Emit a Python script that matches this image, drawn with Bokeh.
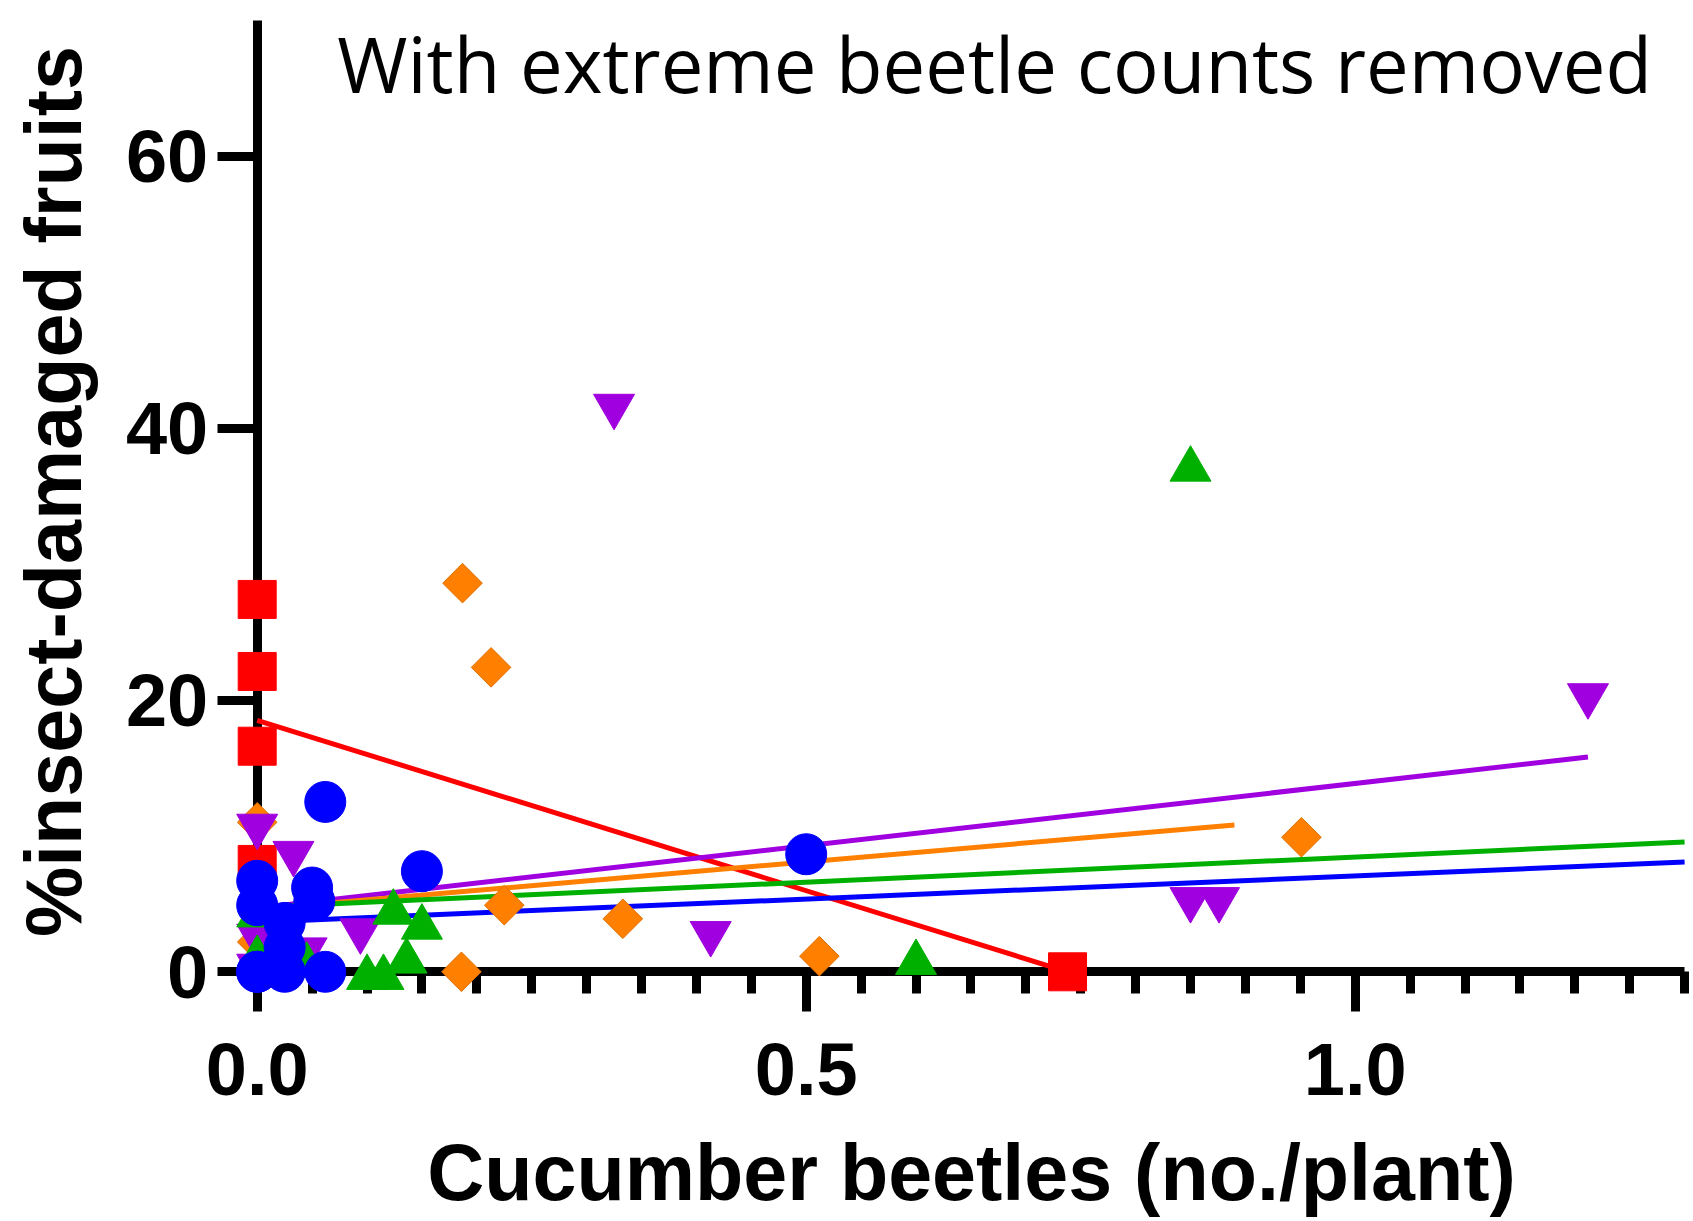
import numpy as np
from bokeh.plotting import figure
from bokeh.models import FixedTicker, Label, ColumnDataSource, Range1d
from bokeh.transform import dodge
from bokeh.embed import file_html
from bokeh.resources import INLINE

# ---------------- data ----------------
blue_x = [0.0, 0.0, 0.0, 0.0, 0.025, 0.025, 0.025, 0.050, 0.052, 0.062, 0.062, 0.150, 0.500]
blue_y = [6.7, 4.9, 0.0, 0.0, 3.6, 1.8, 0.0, 6.2, 5.2, 12.5, 0.0, 7.4, 8.65]

red_x = [0.0, 0.0, 0.0, 0.0, 0.738]
red_y = [27.4, 22.1, 16.6, 7.9, 0.0]

green_x = [0.0, 0.0, 0.045, 0.100, 0.115, 0.124, 0.136, 0.150, 0.600, 0.850]
green_y = [4.6, 1.4, 0.9, 0.0, 0.0, 4.8, 1.2, 3.7, 1.1, 37.4]

purple_x = [0.0, 0.033, 0.0, 0.0, 0.045, 0.094, 0.325, 0.413, 0.850, 0.876, 1.212]
purple_y = [10.3, 8.3, 2.2, 0.0, 1.2, 2.6, 41.2, 2.4, 4.9, 4.9, 19.9]

orange_x = [0.0, 0.0, 0.186, 0.187, 0.213, 0.225, 0.333, 0.512, 0.951]
orange_y = [11.0, 2.2, 0.0, 28.6, 22.4, 4.9, 3.9, 1.15, 9.9]

# fitted regression lines (end points)
red_fit_x = [0.0, 0.738]
red_fit_y = [18.5, 0.0]
purple_fit_x = [0.0, 1.212]
purple_fit_y = [4.7, 15.8]
orange_fit_x = [0.0, 0.890]
orange_fit_y = [4.6, 10.8]
green_fit_x = [0.0, 1.30]
green_fit_y = [4.75, 9.55]
blue_fit_x = [0.0, 1.30]
blue_fit_y = [3.65, 8.08]

x_major_ticks = [0.0, 0.5, 1.0]
x_tick_labels = ["0.0", "0.5", "1.0"]
y_major_ticks = [0, 20, 40, 60]
y_tick_labels = ["0", "20", "40", "60"]
x_axis_max = 1.3
y_axis_max = 70

title_text = "With extreme beetle counts removed"
x_label = "Cucumber beetles (no./plant)"
y_label = "%insect-damaged fruits"

# ---------------- colours / styles ----------------
RED = "#FF0000"
BLUE = "#0000FF"
GREEN = "#00B000"
ORANGE = "#FF8000"
PURPLE = "#A000E0"

W, H = 1693, 1221
X_ORIGIN_PX, Y_ORIGIN_PX = 256.7, 971.3     # where (0, 0) sits on the canvas
PX_PER_X, PX_PER_Y = 1098.0, 13.59

x_range = Range1d(-X_ORIGIN_PX / PX_PER_X, (W - X_ORIGIN_PX) / PX_PER_X)
y_range = Range1d(-(H - Y_ORIGIN_PX) / PX_PER_Y, Y_ORIGIN_PX / PX_PER_Y)

p = figure(
    output_backend="svg",
    toolbar_location=None,
    x_range=x_range,
    y_range=y_range,
    width=W,
    height=H,
    min_border=0,
    background_fill_color="white",
    border_fill_color="white",
    outline_line_color=None,
)
p.grid.visible = False

# ---------------- axes (crossing at the origin) ----------------
minor = [round(0.05 * i, 2) for i in range(1, 27) if i % 10 != 0]
p.xaxis.ticker = FixedTicker(ticks=x_major_ticks, minor_ticks=minor)
p.yaxis.ticker = FixedTicker(ticks=y_major_ticks, minor_ticks=[])
p.xaxis.major_label_overrides = {t: l for t, l in zip(x_major_ticks, x_tick_labels)}
p.yaxis.major_label_overrides = {t: l for t, l in zip(y_major_ticks, y_tick_labels)}
p.xaxis.fixed_location = 0
p.yaxis.fixed_location = 0
p.xaxis.bounds = (0, x_axis_max)
p.yaxis.bounds = (0, y_axis_max)

for ax in (p.xaxis, p.yaxis):
    ax.axis_line_color = "black"
    ax.axis_line_width = 9
    ax.major_tick_line_color = "black"
    ax.major_tick_line_width = 9
    ax.minor_tick_line_color = "black"
    ax.minor_tick_line_width = 9
    ax.major_tick_out = 40
    ax.major_tick_in = 0
    ax.minor_tick_out = 22
    ax.minor_tick_in = 0
    ax.major_label_text_font = "Liberation Sans"
    ax.major_label_text_font_style = "bold"
    ax.major_label_text_font_size = "74px"
    ax.major_label_text_color = "black"
p.xaxis.major_label_standoff = 31
p.yaxis.major_label_standoff = 9

# ---------------- fit lines ----------------
renderers = []
for fx, fy, col in [
    (red_fit_x, red_fit_y, RED),
    (purple_fit_x, purple_fit_y, PURPLE),
    (orange_fit_x, orange_fit_y, ORANGE),
    (green_fit_x, green_fit_y, GREEN),
    (blue_fit_x, blue_fit_y, BLUE),
]:
    renderers.append(p.line(fx, fy, line_color=col, line_width=5))

# ---------------- markers ----------------
tri_shift = (40 / 2 * np.sqrt(3) / 6) / PX_PER_Y  # centre triangle bounding boxes

src_red = ColumnDataSource(dict(x=red_x, y=red_y))
src_orange = ColumnDataSource(dict(x=orange_x, y=orange_y))
src_purple = ColumnDataSource(dict(x=purple_x, y=purple_y))
src_green = ColumnDataSource(dict(x=green_x, y=green_y))
src_blue = ColumnDataSource(dict(x=blue_x, y=blue_y))

renderers.append(p.scatter("x", "y", source=src_red, marker="square", size=38,
                           fill_color=RED, line_color=RED, line_width=1))
renderers.append(p.scatter("x", "y", source=src_orange, marker="square", size=28,
                           angle=np.pi / 4, fill_color=ORANGE, line_color="#E07000", line_width=1))
renderers.append(p.scatter("x", dodge("y", tri_shift, range=p.y_range), source=src_purple,
                           marker="inverted_triangle", size=41,
                           fill_color=PURPLE, line_color=PURPLE, line_width=1))
renderers.append(p.scatter("x", dodge("y", -tri_shift, range=p.y_range), source=src_green,
                           marker="triangle", size=41,
                           fill_color=GREEN, line_color=GREEN, line_width=1))
renderers.append(p.scatter("x", "y", source=src_blue, marker="circle", size=41,
                           fill_color=BLUE, line_color=BLUE, line_width=1))
for r in renderers:
    r.level = "overlay"

# ---------------- texts ----------------
p.add_layout(Label(x=0.0729, y=66.85, text=title_text, text_font="Open Sans",
                   text_font_size="76px", text_color="black",
                   text_align="left", text_baseline="alphabetic"))
p.add_layout(Label(x=0.6506, y=-14.75, text=x_label, text_font="Liberation Sans",
                   text_font_style="bold", text_font_size="79px", text_color="black",
                   text_align="center", text_baseline="alphabetic"))
p.add_layout(Label(x=-0.1855, y=35.34, text=y_label, text_font="Liberation Sans",
                   text_font_style="bold", text_font_size="79px", text_color="black",
                   angle=np.pi / 2, text_align="center", text_baseline="alphabetic"))

open("out.html", "w").write(file_html(p, INLINE))
